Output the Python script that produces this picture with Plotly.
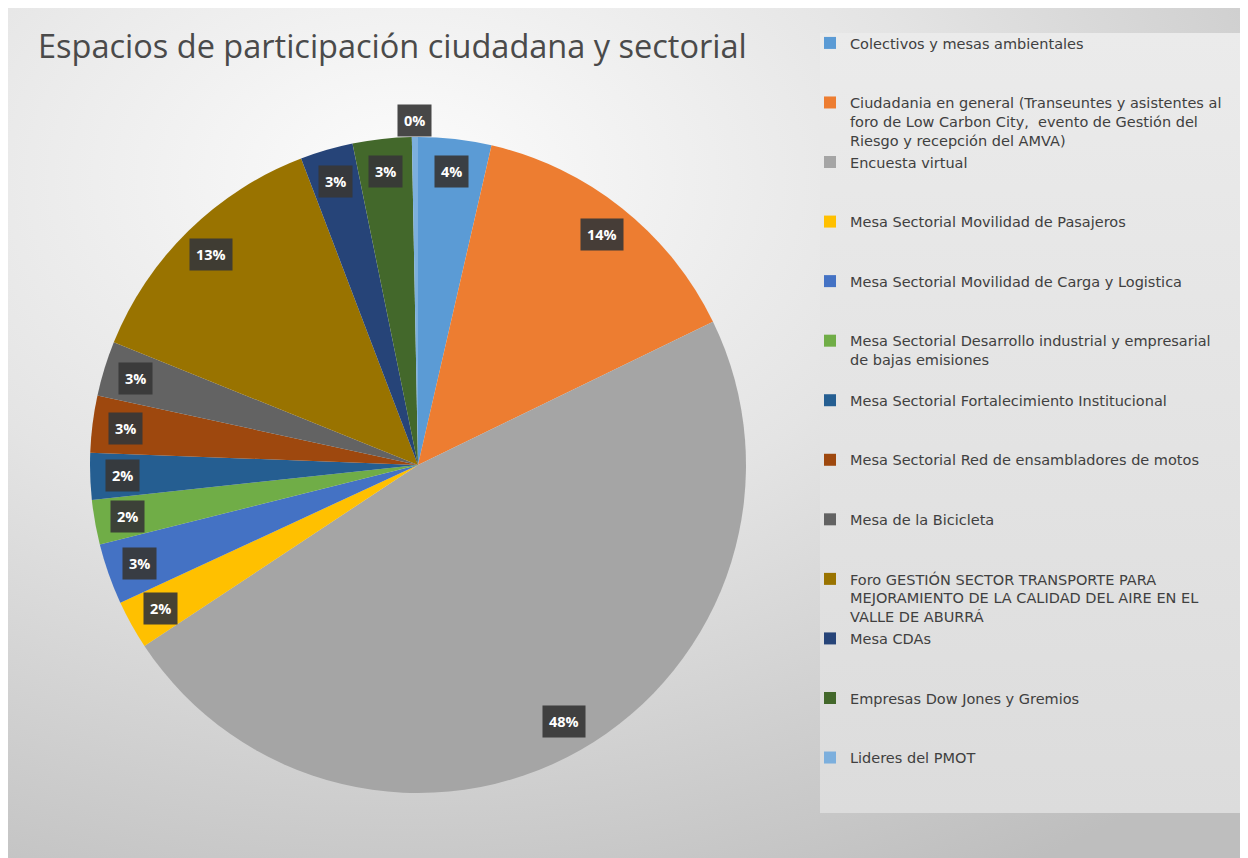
import math
import base64
import plotly.graph_objects as go

# ---------------- data ----------------
categories = [
    "Colectivos y mesas ambientales",
    "Ciudadania en general (Transeuntes y asistentes al foro de Low Carbon City,  evento de Gestión del Riesgo y recepción del AMVA)",
    "Encuesta virtual",
    "Mesa Sectorial Movilidad de Pasajeros",
    "Mesa Sectorial Movilidad de Carga y Logistica",
    "Mesa Sectorial Desarrollo industrial y empresarial de bajas emisiones",
    "Mesa Sectorial Fortalecimiento Institucional",
    "Mesa Sectorial Red de ensambladores de motos",
    "Mesa de la Bicicleta",
    "Foro GESTIÓN SECTOR TRANSPORTE PARA MEJORAMIENTO DE LA CALIDAD DEL AIRE EN EL VALLE DE ABURRÁ",
    "Mesa CDAs",
    "Empresas Dow Jones y Gremios",
    "Lideres del PMOT",
]
values = [3.6, 14.2, 47.9, 2.4, 3.0, 2.2, 2.3, 2.8, 2.7, 13.1, 2.6, 2.9, 0.3]

# legend line breaks as in the original
legend_lines = [
    ["Colectivos y mesas ambientales"],
    ["Ciudadania en general (Transeuntes y asistentes al",
     "foro de Low Carbon City,  evento de Gestión del",
     "Riesgo y recepción del AMVA)"],
    ["Encuesta virtual"],
    ["Mesa Sectorial Movilidad de Pasajeros"],
    ["Mesa Sectorial Movilidad de Carga y Logistica"],
    ["Mesa Sectorial Desarrollo industrial y empresarial",
     "de bajas emisiones"],
    ["Mesa Sectorial Fortalecimiento Institucional"],
    ["Mesa Sectorial Red de ensambladores de motos"],
    ["Mesa de la Bicicleta"],
    ["Foro GESTIÓN SECTOR TRANSPORTE PARA",
     "MEJORAMIENTO DE LA CALIDAD DEL AIRE EN EL",
     "VALLE DE ABURRÁ"],
    ["Mesa CDAs"],
    ["Empresas Dow Jones y Gremios"],
    ["Lideres del PMOT"],
]

colors = ["#5B9BD5", "#ED7D31", "#A5A5A5", "#FFC000", "#4472C4", "#70AD47",
          "#255E91", "#9E480E", "#636363", "#997300", "#264478", "#43682B",
          "#7CAFDD"]

title_text = "Espacios de participación ciudadana y sectorial"

# ---------------- geometry (plot-div pixel coordinates) ----------------
W, H = 1240, 850
CX, CY, R = 410, 457, 328

dom_x = [(CX - R) / W, (CX + R) / W]
dom_y = [1 - (CY + R) / H, 1 - (CY - R) / H]

# legend text padded to three lines per entry
legend_text = []
for lines in legend_lines:
    padded = lines + ["&nbsp;"] * max(0, 3 - len(lines))
    legend_text.append("<br>".join(padded))

fig = go.Figure(go.Pie(
    labels=legend_text,
    values=values,
    sort=False,
    direction="clockwise",
    rotation=0,
    textinfo="none",
    marker=dict(colors=colors, line=dict(width=0)),
    domain=dict(x=dom_x, y=dom_y),
    hovertext=categories,
    hoverinfo="text+percent",
))

# ---------------- percentage callouts ----------------
total = sum(values)
cum = 0.0
annotations = []
for v in values:
    mid = (cum + v / 2) / total * 2 * math.pi
    cum += v
    pct = v / total * 100
    rr = 1.05 * R if pct < 1 else 0.9 * R
    px = CX + rr * math.sin(mid)
    py = CY - rr * math.cos(mid)
    annotations.append(dict(
        x=px / W, y=1 - py / H, xref="paper", yref="paper",
        text="<b>%d%%</b>" % round(pct), showarrow=False,
        font=dict(family="Open Sans", size=14.5, color="white"),
        bgcolor="rgba(55,55,55,0.92)", borderpad=6,
        xanchor="center", yanchor="middle",
    ))

# ---------------- background (gradient chart area + legend panel) ----------------
svg = f'''<svg xmlns="http://www.w3.org/2000/svg" width="{W}" height="{H}" viewBox="0 0 {W} {H}" preserveAspectRatio="none">
<defs>
<radialGradient id="g" cx="0.32" cy="0.2" r="0.95">
<stop offset="0" stop-color="#fcfcfc"/>
<stop offset="0.45" stop-color="#e4e4e4"/>
<stop offset="1" stop-color="#bebebe"/>
</radialGradient>
<linearGradient id="lg" x1="0" y1="0" x2="0" y2="1">
<stop offset="0" stop-color="#ebebeb"/>
<stop offset="1" stop-color="#dcdcdc"/>
</linearGradient>
</defs>
<rect x="0" y="0" width="{W}" height="{H}" fill="url(#g)"/>
<rect x="812" y="25" width="420" height="780" fill="url(#lg)"/>
</svg>'''
src = "data:image/svg+xml;base64," + base64.b64encode(svg.encode("utf-8")).decode("ascii")

fig.update_layout(
    width=W, height=H,
    margin=dict(l=0, r=0, t=0, b=0),
    paper_bgcolor="#dddddd",
    plot_bgcolor="rgba(0,0,0,0)",
    images=[dict(source=src, xref="paper", yref="paper", x=0, y=1,
                 sizex=1, sizey=1, xanchor="left", yanchor="top",
                 sizing="stretch", layer="below")],
    title=dict(text=title_text, x=30 / W, xanchor="left",
               y=1 - 39 / H, yanchor="middle", yref="container",
               font=dict(family="Open Sans", size=32.5, color="#4a4a4a")),
    showlegend=True,
    legend=dict(x=802 / W, y=1 - 19 / H, xanchor="left", yanchor="top",
                valign="top", bgcolor="rgba(0,0,0,0)",
                font=dict(family="DejaVu Sans", size=14.5, color="#404040"),
                traceorder="normal"),
    annotations=annotations,
)

fig.write_html("out.html")
